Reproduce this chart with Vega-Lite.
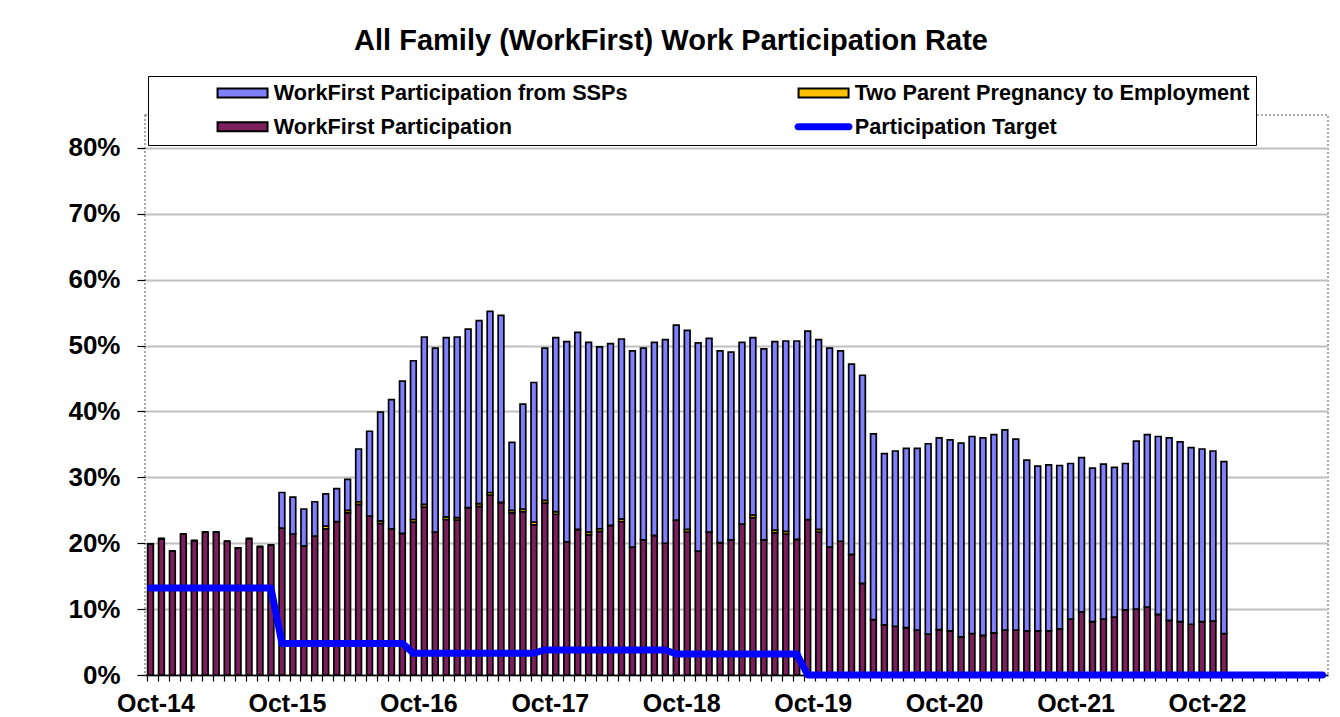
{
  "$schema": "https://vega.github.io/schema/vega-lite/v6.json",
  "width": 1183,
  "height": 560,
  "autosize": {"type": "none"},
  "padding": {"left": 145, "top": 115, "right": 12, "bottom": 42},
  "background": "#ffffff",
  "config": {
    "font": "Liberation Sans",
    "view": {"stroke": "#8c8c8c", "strokeDash": [2, 2], "strokeWidth": 1.5}
  },
  "title": {
    "text": "All Family (WorkFirst) Work Participation Rate",
    "font": "Liberation Sans",
    "fontSize": 29,
    "fontWeight": "bold",
    "color": "#000000",
    "anchor": "middle",
    "frame": "group",
    "dx": -65.5,
    "baseline": "alphabetic",
    "offset": -3
  },
  "datasets": {
    "bars": [
      {"m":"2014-10","wf":19.9,"tp":0,"ssp":0},
      {"m":"2014-11","wf":20.7,"tp":0,"ssp":0},
      {"m":"2014-12","wf":18.8,"tp":0,"ssp":0},
      {"m":"2015-01","wf":21.4,"tp":0,"ssp":0},
      {"m":"2015-02","wf":20.4,"tp":0,"ssp":0},
      {"m":"2015-03","wf":21.7,"tp":0,"ssp":0},
      {"m":"2015-04","wf":21.7,"tp":0,"ssp":0},
      {"m":"2015-05","wf":20.3,"tp":0,"ssp":0},
      {"m":"2015-06","wf":19.3,"tp":0,"ssp":0},
      {"m":"2015-07","wf":20.7,"tp":0,"ssp":0},
      {"m":"2015-08","wf":19.5,"tp":0,"ssp":0},
      {"m":"2015-09","wf":19.7,"tp":0,"ssp":0},
      {"m":"2015-10","wf":22.3,"tp":0,"ssp":5.4},
      {"m":"2015-11","wf":21.4,"tp":0,"ssp":5.6},
      {"m":"2015-12","wf":19.6,"tp":0,"ssp":5.6},
      {"m":"2016-01","wf":21.1,"tp":0,"ssp":5.2},
      {"m":"2016-02","wf":22.2,"tp":0.4,"ssp":4.9},
      {"m":"2016-03","wf":23.3,"tp":0,"ssp":5.0},
      {"m":"2016-04","wf":24.6,"tp":0.4,"ssp":4.7},
      {"m":"2016-05","wf":25.9,"tp":0.4,"ssp":8.0},
      {"m":"2016-06","wf":24.1,"tp":0,"ssp":12.9},
      {"m":"2016-07","wf":23.0,"tp":0.4,"ssp":16.5},
      {"m":"2016-08","wf":22.2,"tp":0,"ssp":19.6},
      {"m":"2016-09","wf":21.5,"tp":0,"ssp":23.1},
      {"m":"2016-10","wf":23.2,"tp":0.4,"ssp":24.1},
      {"m":"2016-11","wf":25.5,"tp":0.4,"ssp":25.4},
      {"m":"2016-12","wf":21.7,"tp":0,"ssp":27.9},
      {"m":"2017-01","wf":23.6,"tp":0.4,"ssp":27.2},
      {"m":"2017-02","wf":23.5,"tp":0.4,"ssp":27.4},
      {"m":"2017-03","wf":25.4,"tp":0,"ssp":27.1},
      {"m":"2017-04","wf":25.6,"tp":0.4,"ssp":27.8},
      {"m":"2017-05","wf":27.3,"tp":0.4,"ssp":27.5},
      {"m":"2017-06","wf":26.2,"tp":0,"ssp":28.4},
      {"m":"2017-07","wf":24.6,"tp":0.4,"ssp":10.3},
      {"m":"2017-08","wf":24.8,"tp":0.4,"ssp":15.9},
      {"m":"2017-09","wf":22.8,"tp":0.4,"ssp":21.2},
      {"m":"2017-10","wf":26.1,"tp":0.4,"ssp":23.1},
      {"m":"2017-11","wf":24.4,"tp":0.4,"ssp":26.4},
      {"m":"2017-12","wf":20.2,"tp":0,"ssp":30.4},
      {"m":"2018-01","wf":22.1,"tp":0,"ssp":29.9},
      {"m":"2018-02","wf":21.3,"tp":0.4,"ssp":28.8},
      {"m":"2018-03","wf":21.8,"tp":0.4,"ssp":27.6},
      {"m":"2018-04","wf":22.7,"tp":0,"ssp":27.6},
      {"m":"2018-05","wf":23.3,"tp":0.4,"ssp":27.3},
      {"m":"2018-06","wf":19.4,"tp":0,"ssp":29.8},
      {"m":"2018-07","wf":20.5,"tp":0,"ssp":29.1},
      {"m":"2018-08","wf":21.2,"tp":0,"ssp":29.3},
      {"m":"2018-09","wf":20.0,"tp":0,"ssp":30.9},
      {"m":"2018-10","wf":23.5,"tp":0,"ssp":29.6},
      {"m":"2018-11","wf":21.7,"tp":0.4,"ssp":30.2},
      {"m":"2018-12","wf":18.8,"tp":0,"ssp":31.6},
      {"m":"2019-01","wf":21.7,"tp":0,"ssp":29.4},
      {"m":"2019-02","wf":20.1,"tp":0,"ssp":29.1},
      {"m":"2019-03","wf":20.5,"tp":0,"ssp":28.5},
      {"m":"2019-04","wf":22.9,"tp":0,"ssp":27.6},
      {"m":"2019-05","wf":23.9,"tp":0.4,"ssp":26.9},
      {"m":"2019-06","wf":20.5,"tp":0,"ssp":29.0},
      {"m":"2019-07","wf":21.6,"tp":0.4,"ssp":28.6},
      {"m":"2019-08","wf":21.4,"tp":0.4,"ssp":28.9},
      {"m":"2019-09","wf":20.6,"tp":0,"ssp":30.1},
      {"m":"2019-10","wf":23.6,"tp":0,"ssp":28.6},
      {"m":"2019-11","wf":21.7,"tp":0.4,"ssp":28.8},
      {"m":"2019-12","wf":19.4,"tp":0,"ssp":30.2},
      {"m":"2020-01","wf":20.3,"tp":0,"ssp":28.9},
      {"m":"2020-02","wf":18.3,"tp":0,"ssp":28.9},
      {"m":"2020-03","wf":13.9,"tp":0,"ssp":31.6},
      {"m":"2020-04","wf":8.4,"tp":0,"ssp":28.2},
      {"m":"2020-05","wf":7.6,"tp":0,"ssp":26.0},
      {"m":"2020-06","wf":7.4,"tp":0,"ssp":26.6},
      {"m":"2020-07","wf":7.2,"tp":0,"ssp":27.2},
      {"m":"2020-08","wf":6.8,"tp":0,"ssp":27.6},
      {"m":"2020-09","wf":6.2,"tp":0,"ssp":28.9},
      {"m":"2020-10","wf":6.9,"tp":0,"ssp":29.1},
      {"m":"2020-11","wf":6.7,"tp":0,"ssp":29.0},
      {"m":"2020-12","wf":5.8,"tp":0,"ssp":29.4},
      {"m":"2021-01","wf":6.3,"tp":0,"ssp":29.9},
      {"m":"2021-02","wf":6.0,"tp":0,"ssp":30.0},
      {"m":"2021-03","wf":6.4,"tp":0,"ssp":30.1},
      {"m":"2021-04","wf":6.8,"tp":0,"ssp":30.4},
      {"m":"2021-05","wf":6.8,"tp":0,"ssp":29.0},
      {"m":"2021-06","wf":6.7,"tp":0,"ssp":25.9},
      {"m":"2021-07","wf":6.7,"tp":0,"ssp":25.0},
      {"m":"2021-08","wf":6.7,"tp":0,"ssp":25.2},
      {"m":"2021-09","wf":7.0,"tp":0,"ssp":24.8},
      {"m":"2021-10","wf":8.5,"tp":0,"ssp":23.6},
      {"m":"2021-11","wf":9.6,"tp":0,"ssp":23.4},
      {"m":"2021-12","wf":8.1,"tp":0,"ssp":23.3},
      {"m":"2022-01","wf":8.5,"tp":0,"ssp":23.5},
      {"m":"2022-02","wf":8.8,"tp":0,"ssp":22.7},
      {"m":"2022-03","wf":9.9,"tp":0,"ssp":22.2},
      {"m":"2022-04","wf":10.0,"tp":0,"ssp":25.5},
      {"m":"2022-05","wf":10.3,"tp":0,"ssp":26.2},
      {"m":"2022-06","wf":9.2,"tp":0,"ssp":27.0},
      {"m":"2022-07","wf":8.3,"tp":0,"ssp":27.7},
      {"m":"2022-08","wf":8.1,"tp":0,"ssp":27.3},
      {"m":"2022-09","wf":7.7,"tp":0,"ssp":26.8},
      {"m":"2022-10","wf":8.1,"tp":0,"ssp":26.2},
      {"m":"2022-11","wf":8.2,"tp":0,"ssp":25.8},
      {"m":"2022-12","wf":6.3,"tp":0,"ssp":26.1}
    ],
    "target": [
      {"m":"2014-10","t":13.2},{"m":"2014-11","t":13.2},{"m":"2014-12","t":13.2},
      {"m":"2015-01","t":13.2},{"m":"2015-02","t":13.2},{"m":"2015-03","t":13.2},
      {"m":"2015-04","t":13.2},{"m":"2015-05","t":13.2},{"m":"2015-06","t":13.2},
      {"m":"2015-07","t":13.2},{"m":"2015-08","t":13.2},{"m":"2015-09","t":13.2},
      {"m":"2015-10","t":4.8},{"m":"2015-11","t":4.8},{"m":"2015-12","t":4.8},
      {"m":"2016-01","t":4.8},{"m":"2016-02","t":4.8},{"m":"2016-03","t":4.8},
      {"m":"2016-04","t":4.8},{"m":"2016-05","t":4.8},{"m":"2016-06","t":4.8},
      {"m":"2016-07","t":4.8},{"m":"2016-08","t":4.8},{"m":"2016-09","t":4.8},
      {"m":"2016-10","t":3.3},{"m":"2016-11","t":3.3},{"m":"2016-12","t":3.3},
      {"m":"2017-01","t":3.3},{"m":"2017-02","t":3.3},{"m":"2017-03","t":3.3},
      {"m":"2017-04","t":3.3},{"m":"2017-05","t":3.3},{"m":"2017-06","t":3.3},
      {"m":"2017-07","t":3.3},{"m":"2017-08","t":3.3},{"m":"2017-09","t":3.3},
      {"m":"2017-10","t":3.8},{"m":"2017-11","t":3.8},{"m":"2017-12","t":3.8},
      {"m":"2018-01","t":3.8},{"m":"2018-02","t":3.8},{"m":"2018-03","t":3.8},
      {"m":"2018-04","t":3.8},{"m":"2018-05","t":3.8},{"m":"2018-06","t":3.8},
      {"m":"2018-07","t":3.8},{"m":"2018-08","t":3.8},{"m":"2018-09","t":3.8},
      {"m":"2018-10","t":3.2},{"m":"2018-11","t":3.2},{"m":"2018-12","t":3.2},
      {"m":"2019-01","t":3.2},{"m":"2019-02","t":3.2},{"m":"2019-03","t":3.2},
      {"m":"2019-04","t":3.2},{"m":"2019-05","t":3.2},{"m":"2019-06","t":3.2},
      {"m":"2019-07","t":3.2},{"m":"2019-08","t":3.2},{"m":"2019-09","t":3.2},
      {"m":"2019-10","t":0},{"m":"2019-11","t":0},{"m":"2019-12","t":0},
      {"m":"2020-01","t":0},{"m":"2020-02","t":0},{"m":"2020-03","t":0},
      {"m":"2020-04","t":0},{"m":"2020-05","t":0},{"m":"2020-06","t":0},
      {"m":"2020-07","t":0},{"m":"2020-08","t":0},{"m":"2020-09","t":0},
      {"m":"2020-10","t":0},{"m":"2020-11","t":0},{"m":"2020-12","t":0},
      {"m":"2021-01","t":0},{"m":"2021-02","t":0},{"m":"2021-03","t":0},
      {"m":"2021-04","t":0},{"m":"2021-05","t":0},{"m":"2021-06","t":0},
      {"m":"2021-07","t":0},{"m":"2021-08","t":0},{"m":"2021-09","t":0},
      {"m":"2021-10","t":0},{"m":"2021-11","t":0},{"m":"2021-12","t":0},
      {"m":"2022-01","t":0},{"m":"2022-02","t":0},{"m":"2022-03","t":0},
      {"m":"2022-04","t":0},{"m":"2022-05","t":0},{"m":"2022-06","t":0},
      {"m":"2022-07","t":0},{"m":"2022-08","t":0},{"m":"2022-09","t":0},
      {"m":"2022-10","t":0},{"m":"2022-11","t":0},{"m":"2022-12","t":0},
      {"m":"2023-01","t":0},{"m":"2023-02","t":0},{"m":"2023-03","t":0},
      {"m":"2023-04","t":0},{"m":"2023-05","t":0},{"m":"2023-06","t":0},
      {"m":"2023-07","t":0},{"m":"2023-08","t":0},{"m":"2023-09","t":0}
    ]
  },
  "layer": [
    {
      "data": {"name": "bars"},
      "transform": [{"fold": ["wf", "tp", "ssp"], "as": ["key", "value"]}],
      "mark": {"type": "bar", "stroke": "#000000", "strokeWidth": 1.7},
      "encoding": {
        "x": {
          "field": "m",
          "type": "ordinal",
          "scale": {"paddingInner": 0.48, "paddingOuter": 0.24},
          "axis": {
            "title": null,
            "bandPosition": 0,
            "labelExpr": "slice(datum.value, 5) == '10' ? 'Oct-' + slice(datum.value, 2, 4) : ''",
            "labelOffset": 5.475,
            "labelAngle": 0,
            "labelFont": "Liberation Sans",
            "labelFontSize": 25,
            "labelFontWeight": "bold",
            "labelColor": "#000000",
            "labelPadding": 10,
            "labelOverlap": false,
            "tickSize": 6,
            "tickColor": "#000000",
            "tickWidth": 1.2,
            "domainColor": "#000000",
            "domainWidth": 1.5,
            "grid": false
          }
        },
        "y": {
          "field": "value",
          "type": "quantitative",
          "stack": "zero",
          "scale": {"domain": [0, 85], "nice": false},
          "axis": {
            "title": null,
            "values": [0, 10, 20, 30, 40, 50, 60, 70, 80],
            "labelExpr": "datum.value + '%'",
            "domain": false,
            "ticks": true,
            "tickSize": 8,
            "tickColor": "#000000",
            "tickWidth": 1.2,
            "grid": true,
            "gridColor": "#C0C0C0",
            "gridWidth": 2,
            "labelFont": "Liberation Sans",
            "labelFontSize": 26,
            "labelFontWeight": "bold",
            "labelColor": "#000000",
            "labelPadding": 17
          }
        },
        "color": {
          "field": "key",
          "type": "nominal",
          "scale": {"domain": ["ssp", "tp", "wf", "target"], "range": ["#8080FF", "#FFC000", "#7D1F5C", "#0000FF"]},
          "legend": {
            "orient": "none",
            "legendX": 3,
            "legendY": -39,
            "direction": "horizontal",
            "columns": 2,
            "title": null,
            "padding": 6,
            "strokeColor": "#000000",
            "fillColor": "#FFFFFF",
            "labelExpr": "datum.value == 'ssp' ? 'WorkFirst Participation from SSPs' : datum.value == 'tp' ? 'Two Parent Pregnancy to Employment' : datum.value == 'wf' ? 'WorkFirst Participation' : 'Participation Target'",
            "labelFont": "Liberation Sans",
            "labelFontSize": 21.7,
            "labelFontWeight": "bold",
            "labelColor": "#000000",
            "labelLimit": 600,
            "symbolSize": 100,
            "symbolOffset": 77.7,
            "labelOffset": 20.3,
            "rowPadding": 11,
            "columnPadding": 107,
            "symbolOpacity": 1,
            "symbolStrokeColor": "#000000",
            "symbolType": {"expr": "datum.value == 'target' ? 'M-5.1,-0.7H5.1A0.7,0.7 0 0 1 5.1,0.7H-5.1A0.7,0.7 0 0 1 -5.1,-0.7Z' : 'M-5,-0.9H5V0.9H-5Z'"},
            "symbolStrokeWidth": {"expr": "datum.value == 'target' ? 0 : 2"}
          }
        },
        "order": {"field": "key", "sort": "descending"}
      }
    },
    {
      "data": {"name": "target"},
      "mark": {"type": "line", "stroke": "#0000FF", "strokeWidth": 7, "strokeCap": "round", "strokeJoin": "round"},
      "encoding": {
        "x": {"field": "m", "type": "ordinal"},
        "y": {"field": "t", "type": "quantitative"}
      }
    }
  ]
}
